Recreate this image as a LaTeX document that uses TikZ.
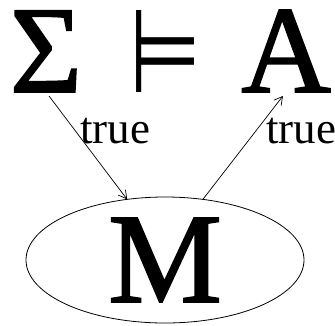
\documentclass[tikz,border=0pt]{standalone}
\usepackage{fontspec}
\setmainfont{Liberation Serif}
\newfontfamily\symfont{DejaVu Sans}
\newfontfamily\heavyfont[FakeBold=1.5]{Liberation Serif}
\usepackage{graphicx}
\usetikzlibrary{arrows.meta,shapes.geometric}

\begin{document}
\begin{tikzpicture}[x=1pt,y=-1pt,>={Straight Barb[length=8pt,width=9pt]},
  every node/.style={inner sep=0pt,outer sep=0pt},
  big/.style={font=\fontsize{124}{124}\selectfont\heavyfont},
  lbl/.style={font=\fontsize{45}{45}\selectfont}]
\useasboundingbox (0,0) rectangle (335,325);
\node[big,anchor=base] (sig) at (46,92) {Σ};
\node (ent) at (165,51) {\resizebox*{72pt}{82pt}{\symfont ⊨}};
\node[big,anchor=base] (fa) at (286,92) {A};
\node[lbl,anchor=base] (t1) at (115,143) {true};
\node[lbl,anchor=base] (t2) at (301,143) {true};
\node[draw,ellipse,line width=0.8pt,minimum width=278pt,minimum height=126pt,
  font=\fontsize{128}{128}\selectfont\heavyfont] (mod) at (165,260) {M};
\draw[->,line width=0.7pt,shorten <=5pt] (sig.south) -- (mod.122);
\draw[->,line width=0.7pt,shorten >=5pt] (mod.58) -- (fa.south);
\end{tikzpicture}
\end{document}
